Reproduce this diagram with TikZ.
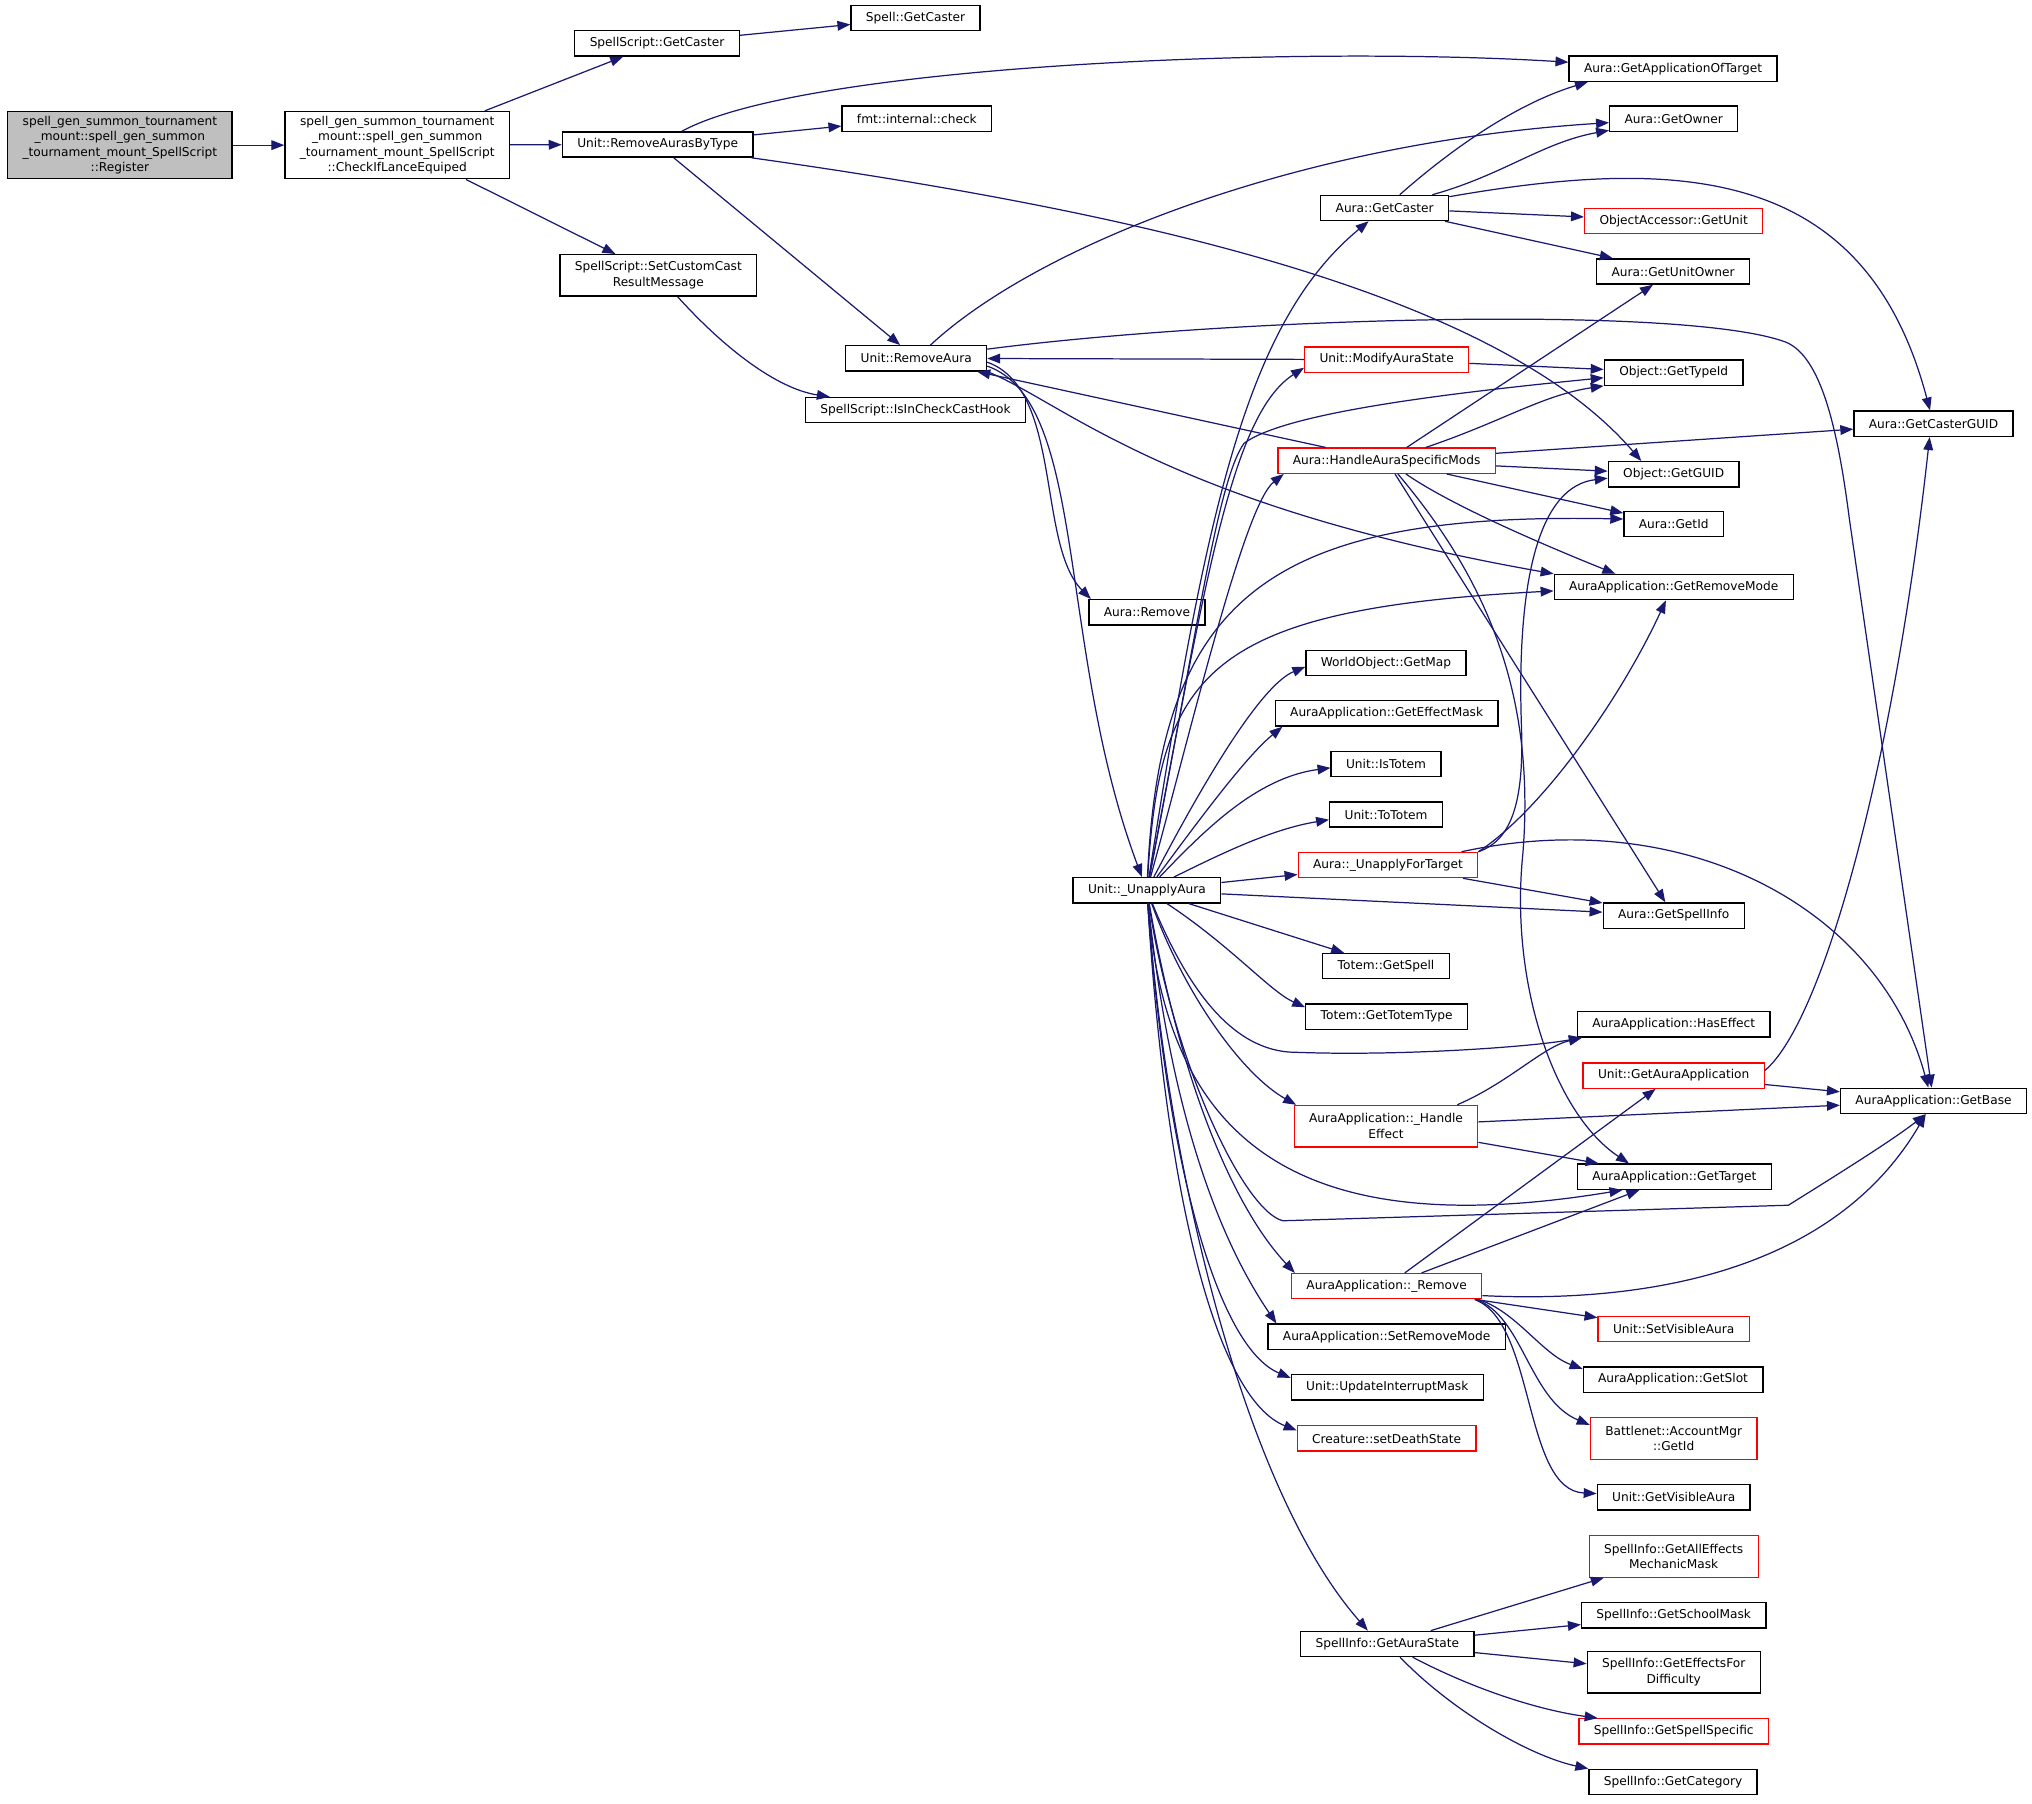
\documentclass[tikz,border=0pt]{standalone}
\usepackage{fontspec}
\setmainfont{DejaVu Sans}
\usetikzlibrary{arrows.meta}
\definecolor{edgeblue}{HTML}{191970}
\definecolor{nodegray}{HTML}{BFBFBF}

\begin{document}
\begin{tikzpicture}[x=1pt, y=-1pt,
            fn/.style={draw=black, line width=1pt, inner xsep=11.5pt, inner ysep=3pt, minimum height=19.5pt, align=center, font=\fontsize{9.4}{12}\selectfont},
            fnred/.style={fn, draw=red},
            fntwo/.style={minimum height=32pt},
            call/.style={edgeblue, line width=0.95pt, -{Triangle[length=10pt,width=7.5pt]}}]

            \useasboundingbox (0,0) rectangle (1568,1391.3);

            \node[fn, fill=nodegray, minimum height=52pt] (register) at (92.5,112) {spell\_gen\_summon\_tournament\\\_mount::spell\_gen\_summon\\\_tournament\_mount\_SpellScript\\::Register};
            \node[fn, minimum height=52pt] (lance) at (306.5,112) {spell\_gen\_summon\_tournament\\\_mount::spell\_gen\_summon\\\_tournament\_mount\_SpellScript\\::CheckIfLanceEquiped};
            \node[fn] (ssCaster) at (507,33.5) {SpellScript::GetCaster};
            \node[fn] (spellCaster) at (706.5,14) {Spell::GetCaster};
            \node[fn] (rmByType) at (507.5,111.5) {Unit::RemoveAurasByType};
            \node[fn, fntwo] (castMsg) at (508,212.5) {SpellScript::SetCustomCast\\ResultMessage};
            \node[fn] (rmAura) at (707,276.5) {Unit::RemoveAura};
            \node[fn] (checkHook) at (706.5,316.5) {SpellScript::IsInCheckCastHook};
            \node[fn] (fmtCheck) at (707.5,91.5) {fmt::internal::check};

            \node[fn] (appTarget) at (1291,53) {Aura::GetApplicationOfTarget};
            \node[fn] (getOwner) at (1291.5,91.5) {Aura::GetOwner};
            \node[fn] (auraCaster) at (1068.5,160.5) {Aura::GetCaster};
            \node[fnred] (getUnit) at (1291.5,170.5) {ObjectAccessor::GetUnit};
            \node[fn] (unitOwner) at (1291,209.5) {Aura::GetUnitOwner};
            \node[fnred] (modState) at (1070,277.5) {Unit::ModifyAuraState};
            \node[fn] (typeId) at (1291.5,287.5) {Object::GetTypeId};
            \node[fn] (casterGuid) at (1492,327) {Aura::GetCasterGUID};
            \node[fnred] (specMods) at (1070,355.5) {Aura::HandleAuraSpecificMods};
            \node[fn] (getGuid) at (1291.5,366) {Object::GetGUID};
            \node[fn] (auraId) at (1291.5,404.5) {Aura::GetId};
            \node[fn] (removeMode) at (1291.5,453) {AuraApplication::GetRemoveMode};
            \node[fn] (auraRemove) at (885,472.5) {Aura::Remove};
            \node[fn] (getMap) at (1069.5,511.5) {WorldObject::GetMap};
            \node[fn] (effectMask) at (1070,550.5) {AuraApplication::GetEffectMask};
            \node[fn] (isTotem) at (1069.5,589.5) {Unit::IsTotem};
            \node[fn] (toTotem) at (1069.5,628.5) {Unit::ToTotem};
            \node[fnred] (unapplyTarget) at (1071,667.5) {Aura::\_UnapplyForTarget};
            \node[fn] (unapplyAura) at (885,687) {Unit::\_UnapplyAura};
            \node[fn] (spellInfo) at (1291.5,706.5) {Aura::GetSpellInfo};
            \node[fn] (totemSpell) at (1069.5,745.5) {Totem::GetSpell};
            \node[fn] (totemType) at (1070,784.5) {Totem::GetTotemType};
            \node[fn] (hasEffect) at (1291.5,790.5) {AuraApplication::HasEffect};
            \node[fnred] (getAuraApp) at (1291.5,830) {Unit::GetAuraApplication};
            \node[fn] (getBase) at (1492,849.5) {AuraApplication::GetBase};
            \node[fnred, fntwo] (handleEffect) at (1069.5,869) {AuraApplication::\_Handle\\Effect};
            \node[fn] (getTarget) at (1292,908) {AuraApplication::GetTarget};
            \node[fnred] (appRemove) at (1070,992.5) {AuraApplication::\_Remove};
            \node[fnred] (setVisible) at (1291.5,1025.5) {Unit::SetVisibleAura};
            \node[fn] (setRemoveMode) at (1070,1031.5) {AuraApplication::SetRemoveMode};
            \node[fn] (getSlot) at (1291,1064.5) {AuraApplication::GetSlot};
            \node[fn] (interruptMask) at (1070.5,1070.5) {Unit::UpdateInterruptMask};
            \node[fnred, fntwo] (bnetId) at (1291.5,1110) {Battlenet::AccountMgr\\::GetId};
            \node[fnred] (deathState) at (1070,1110) {Creature::setDeathState};
            \node[fn] (visibleAura) at (1291.5,1155.5) {Unit::GetVisibleAura};
            \node[fnred, fntwo] (mechanicMask) at (1291.5,1201) {SpellInfo::GetAllEffects\\MechanicMask};
            \node[fn] (schoolMask) at (1291.5,1246.5) {SpellInfo::GetSchoolMask};
            \node[fn] (auraState) at (1070.5,1268.5) {SpellInfo::GetAuraState};
            \node[fn, fntwo] (effectsDiff) at (1291.5,1290.5) {SpellInfo::GetEffectsFor\\Difficulty};
            \node[fnred] (spellSpecific) at (1291.5,1336) {SpellInfo::GetSpellSpecific};
            \node[fn] (category) at (1291,1375) {SpellInfo::GetCategory};

            \draw[call] (register) -- (lance);
            \draw[call] (lance) -- (ssCaster);
            \draw[call] (lance) -- (rmByType);
            \draw[call] (lance) -- (castMsg);
            \draw[call] (ssCaster) -- (spellCaster);
            \draw[call] (castMsg) .. controls (560,270) and (600,300) .. (checkHook);

            \draw[call] (rmByType) -- (fmtCheck);
            \draw[call] (rmByType) .. controls (620,50) and (1000,35) .. (appTarget);
            \draw[call] (rmByType) -- (rmAura);
            \draw[call] (rmByType) .. controls (850,160) and (1150,220) .. ([xshift=-25]getGuid.north);

            \draw[call] (rmAura) .. controls (800,190) and (1000,110) .. (getOwner);
            \draw[call] (rmAura) .. controls (950,245) and (1300,235) .. (1378,264) .. controls (1405,275) and (1418,330) .. (1427,400) -- (getBase);
            \draw[call] (modState) -- (rmAura);
            \draw[call] (specMods) -- (rmAura);
            \draw[call] ([yshift=-3]rmAura.east) .. controls (820,300) and (800,420) .. ([xshift=2]auraRemove.north west);
            \draw[call] ([yshift=-6]rmAura.east) .. controls (840,310) and (815,500) .. (unapplyAura);
            \draw[call] (rmAura.south east) .. controls (820,310) and (900,390) .. (removeMode.north west);

            \draw[call] (auraCaster) .. controls (1120,115) and (1170,80) .. ([xshift=15]appTarget.south west);
            \draw[call] (auraCaster) .. controls (1160,135) and (1190,110) .. (getOwner);
            \draw[call] (auraCaster) .. controls (1300,120) and (1440,130) .. (casterGuid);
            \draw[call] (auraCaster) -- (getUnit);
            \draw[call] (auraCaster) -- (unitOwner);
            \draw[call] (modState) -- (typeId);

            \draw[call] (specMods) -- (unitOwner);
            \draw[call] (specMods) .. controls (1160,325) and (1190,305) .. (typeId.south west);
            \draw[call] (specMods) -- (casterGuid);
            \draw[call] (specMods) -- (getGuid);
            \draw[call] (specMods) -- (auraId);
            \draw[call] (specMods) .. controls (1120,390) and (1190,420) .. ([xshift=-45]removeMode.north);
            \draw[call] (specMods) -- (spellInfo);
            \draw[call] (specMods) .. controls (1150,450) and (1185,540) .. (1175,660) .. controls (1165,760) and (1200,860) .. ([xshift=-35]getTarget.north);

            \draw[call] (unapplyTarget.north east) .. controls (1168,648) and (1176,615) .. (1174,560) .. controls (1170,440) and (1190,375) .. ([yshift=-3]getGuid.west);
            \draw[call] (unapplyTarget.north east) .. controls (1190,625) and (1250,540) .. ([xshift=-6]removeMode.south);
            \draw[call] (unapplyTarget) -- (spellInfo);
            \draw[call] ([xshift=-13]unapplyTarget.north east) .. controls (1300,620) and (1450,700) .. ([xshift=-4]getBase.north);

            \draw[call] ([xshift=55]handleEffect.north) .. controls (1165,835) and (1190,808) .. ([xshift=4]hasEffect.south west);
            \draw[call] (handleEffect) -- (getBase);
            \draw[call] (handleEffect) -- (getTarget);
            \draw[call] ([yshift=4]getAuraApp.east) .. controls (1405,790) and (1460,600) .. ([xshift=-3]casterGuid.south);
            \draw[call] (getAuraApp) -- (getBase);

            \draw[call] (appRemove) -- (getAuraApp);
            \draw[call] (appRemove) -- (getTarget);
            \draw[call] ([yshift=3]appRemove.south east) .. controls (1250,1005) and (1410,990) .. ([xshift=-6]getBase.south);
            \draw[call] (appRemove) -- (setVisible);
            \draw[call] ([xshift=-3]appRemove.south east) .. controls (1170,1012) and (1190,1045) .. ([yshift=-2]getSlot.north west);
            \draw[call] ([xshift=-5]appRemove.south east) .. controls (1175,1015) and (1180,1080) .. ([yshift=-6]bnetId.north west);
            \draw[call] ([xshift=-6]appRemove.south east) .. controls (1185,1020) and (1175,1150) .. ([yshift=3]visibleAura.west);

            \draw[call] (auraState) -- (mechanicMask);
            \draw[call] (auraState) -- (schoolMask);
            \draw[call] (auraState) -- (effectsDiff);
            \draw[call] (auraState) .. controls (1140,1305) and (1190,1320) .. ([xshift=15]spellSpecific.north west);
            \draw[call] (auraState) .. controls (1120,1320) and (1180,1355) .. (category.north west);

            \draw[call] (unapplyAura) .. controls (930,400) and (960,250) .. (auraCaster);
            \draw[call] (unapplyAura) .. controls (930,450) and (950,320) .. ([yshift=4]modState.south west);
            \draw[call] (unapplyAura) .. controls (925,480) and (940,370) .. (960,342) .. controls (990,320) and (1100,305) .. ([yshift=-4]typeId.west);
            \draw[call] (unapplyAura) .. controls (920,560) and (960,390) .. ([xshift=5]specMods.south west);
            \draw[call] (unapplyAura) .. controls (895,460) and (980,395) .. ([yshift=4]auraId.west);
            \draw[call] (unapplyAura) .. controls (895,520) and (930,470) .. ([yshift=-3]removeMode.west);
            \draw[call] (unapplyAura) .. controls (920,620) and (970,530) .. ([yshift=-3]getMap.west);
            \draw[call] (unapplyAura) .. controls (920,640) and (960,585) .. ([xshift=6]effectMask.south west);
            \draw[call] (unapplyAura) .. controls (930,640) and (970,600) .. ([yshift=-3]isTotem.west);
            \draw[call] (unapplyAura) .. controls (940,660) and (980,640) .. ([yshift=-4]toTotem.west);
            \draw[call] (unapplyAura) -- (unapplyTarget);
            \draw[call] (unapplyAura) -- (spellInfo);
            \draw[call] (unapplyAura) -- (totemSpell);
            \draw[call] (unapplyAura) .. controls (950,730) and (980,765) .. ([yshift=-3]totemType.north west);
            \draw[call] (unapplyAura) .. controls (915,760) and (950,812) .. (1000,812) .. controls (1080,815) and (1180,808) .. ([xshift=4]hasEffect.south west);
            \draw[call] (unapplyAura) .. controls (915,770) and (960,830) .. ([xshift=2]handleEffect.north west);
            \draw[call] (unapplyAura) .. controls (900,880) and (1000,960) .. ([xshift=-40]getTarget.south);
            \draw[call] (unapplyAura) .. controls (905,820) and (960,935) .. (990,942) -- (1380,930) .. controls (1420,905) and (1460,880) .. ([xshift=-6]getBase.south);
            \draw[call] (unapplyAura) .. controls (910,830) and (950,930) .. ([xshift=3]appRemove.north west);
            \draw[call] (unapplyAura) .. controls (905,880) and (950,970) .. ([xshift=7]setRemoveMode.north west);
            \draw[call] (unapplyAura) .. controls (900,900) and (940,1040) .. ([yshift=-3]interruptMask.north west);
            \draw[call] (unapplyAura) .. controls (900,930) and (940,1080) .. ([yshift=-4]deathState.north west);
            \draw[call] (unapplyAura) .. controls (900,900) and (960,1150) .. ([xshift=-15]auraState.north);

        \end{tikzpicture}
\end{document}
